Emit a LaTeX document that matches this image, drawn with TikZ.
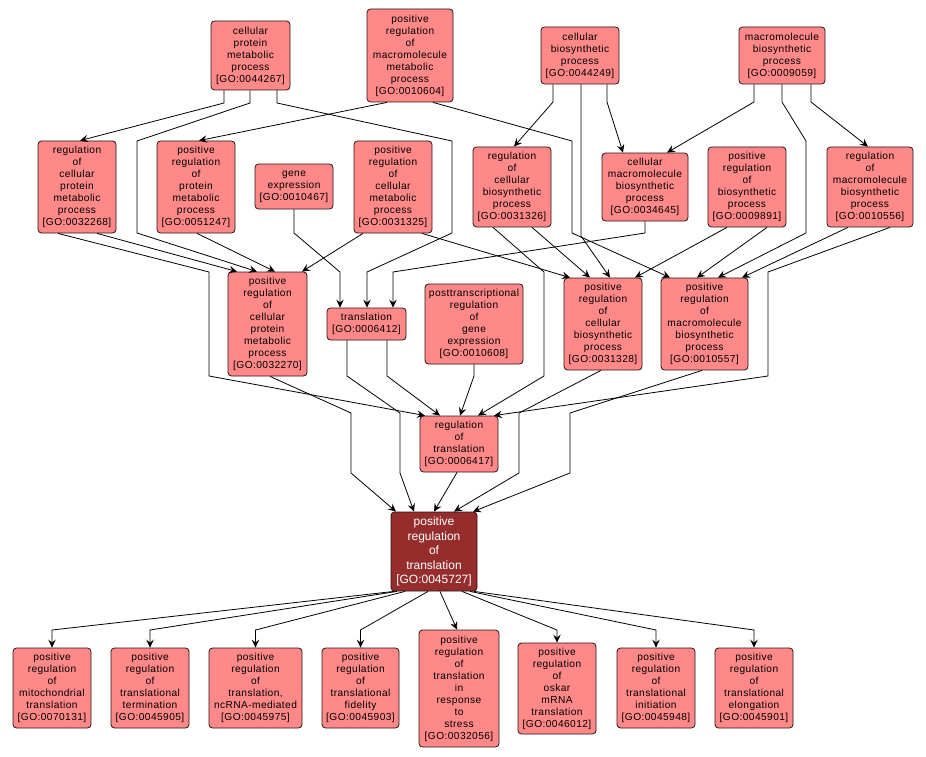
\documentclass[tikz,border=0pt]{standalone}
\usepackage{fontspec}
\setmainfont{Liberation Sans}[LetterSpace=4.0]
\newfontfamily\bigfont{Liberation Sans}
\usetikzlibrary{arrows.meta}
\definecolor{gofill}{RGB}{255,136,136}
\definecolor{gotarget}{RGB}{150,45,45}
\definecolor{goline}{RGB}{40,20,20}
\begin{document}
\begin{tikzpicture}[x=1pt,y=-1pt,
term/.style={draw=goline,line width=0.8pt,fill=gofill,rounded corners=3.5pt,
  inner sep=0pt,align=center,font=\fontsize{10.2}{12}\selectfont},
target/.style={term,fill=gotarget,text=white,font=\bigfont\fontsize{12}{14.5}\selectfont},
link/.style={draw,line width=0.8pt,-{Stealth[length=8pt,width=7.5pt,inset=3pt]}}
]
\useasboundingbox[fill=white] (0,0) rectangle (926,757);

\node[term,minimum width=79pt,minimum height=69pt] (cpm) at (250.5,55.5) {cellular\\protein\\metabolic\\process\\{[GO:0044267]}};
\node[term,minimum width=86pt,minimum height=93pt] (prmm) at (410,55.5) {positive\\regulation\\of\\macromolecule\\metabolic\\process\\{[GO:0010604]}};
\node[term,minimum width=78pt,minimum height=57pt] (cb) at (580,55.5) {cellular\\biosynthetic\\process\\{[GO:0044249]}};
\node[term,minimum width=86pt,minimum height=57pt] (mb) at (782,55.5) {macromolecule\\biosynthetic\\process\\{[GO:0009059]}};

\node[term,minimum width=78pt,minimum height=92pt] (rcpm) at (77,187) {regulation\\of\\cellular\\protein\\metabolic\\process\\{[GO:0032268]}};
\node[term,minimum width=78pt,minimum height=92pt] (prpm) at (196,187) {positive\\regulation\\of\\protein\\metabolic\\process\\{[GO:0051247]}};
\node[term,minimum width=78pt,minimum height=45pt] (ge) at (294,186.5) {gene\\expression\\{[GO:0010467]}};
\node[term,minimum width=78pt,minimum height=92pt] (prcm) at (393,187) {positive\\regulation\\of\\cellular\\metabolic\\process\\{[GO:0031325]}};
\node[term,minimum width=78pt,minimum height=80pt] (rcb) at (512,187) {regulation\\of\\cellular\\biosynthetic\\process\\{[GO:0031326]}};
\node[term,minimum width=86pt,minimum height=68pt] (cmb) at (645,187) {cellular\\macromolecule\\biosynthetic\\process\\{[GO:0034645]}};
\node[term,minimum width=78pt,minimum height=80pt] (prb) at (747,187) {positive\\regulation\\of\\biosynthetic\\process\\{[GO:0009891]}};
\node[term,minimum width=86pt,minimum height=80pt] (rmb) at (870,187) {regulation\\of\\macromolecule\\biosynthetic\\process\\{[GO:0010556]}};

\node[term,minimum width=79pt,minimum height=104pt] (prcpm) at (267.5,324) {positive\\regulation\\of\\cellular\\protein\\metabolic\\process\\{[GO:0032270]}};
\node[term,minimum width=79pt,minimum height=32pt] (tr) at (366.5,324) {translation\\{[GO:0006412]}};
\node[term,minimum width=98pt,minimum height=80pt] (ptr) at (474,324) {posttranscriptional\\regulation\\of\\gene\\expression\\{[GO:0010608]}};
\node[term,minimum width=78pt,minimum height=92pt] (prcb) at (603,324) {positive\\regulation\\of\\cellular\\biosynthetic\\process\\{[GO:0031328]}};
\node[term,minimum width=87pt,minimum height=92pt] (prmb) at (704.5,324) {positive\\regulation\\of\\macromolecule\\biosynthetic\\process\\{[GO:0010557]}};

\node[term,minimum width=78pt,minimum height=56pt] (rt) at (459,444) {regulation\\of\\translation\\{[GO:0006417]}};

\node[target,minimum width=86pt,minimum height=79pt] (prt) at (434,551.5) {positive\\regulation\\of\\translation\\{[GO:0045727]}};

\node[term,minimum width=78pt,minimum height=80pt] (mito) at (52,688) {positive\\regulation\\of\\mitochondrial\\translation\\{[GO:0070131]}};
\node[term,minimum width=78pt,minimum height=80pt] (term) at (150,688) {positive\\regulation\\of\\translational\\termination\\{[GO:0045905]}};
\node[term,minimum width=93pt,minimum height=80pt] (ncrna) at (255.5,688) {positive\\regulation\\of\\translation,\\ncRNA-mediated\\{[GO:0045975]}};
\node[term,minimum width=77pt,minimum height=80pt] (fid) at (360.5,688) {positive\\regulation\\of\\translational\\fidelity\\{[GO:0045903]}};
\node[term,minimum width=80pt,minimum height=117pt] (stress) at (459,688.5) {positive\\regulation\\of\\translation\\in\\response\\to\\stress\\{[GO:0032056]}};
\node[term,minimum width=78pt,minimum height=91pt] (oskar) at (557,688.5) {positive\\regulation\\of\\oskar\\mRNA\\translation\\{[GO:0046012]}};
\node[term,minimum width=78pt,minimum height=80pt] (init) at (656,688) {positive\\regulation\\of\\translational\\initiation\\{[GO:0045948]}};
\node[term,minimum width=78pt,minimum height=80pt] (elong) at (754,688) {positive\\regulation\\of\\translational\\elongation\\{[GO:0045901]}};

\draw[link] (cpm.south -| 224,0) -- (224,103) -- (rcpm.north -| 80,0);
\draw[link] (cpm.south -| 250,0) -- (250,103) -- (137,141) -- (137,233) -- (prcpm.north -| 257,0);
\draw[link] (cpm.south -| 277,0) -- (277,103) -- (452,141) -- (452,233) -- (367,272) -- (tr.north -| 367,0);
\draw[link] (prmm.south -| 387,0) -- (prpm.north -| 199,0);
\draw[link] (prmm.south -| 433,0) -- (572,141) -- (572,233) -- (prmb.north -| 670,0);
\draw[link] (cb.south -| 553,0) -- (553,102) -- (rcb.north -| 514,0);
\draw[link] (cb.south -| 607,0) -- (607,102) -- (cmb.north -| 623,0);
\draw[link] (cb.south -| 581,0) -- (581,236) -- (prcb.north -| 610,0);
\draw[link] (mb.south -| 754,0) -- (754,102) -- (cmb.north -| 667,0);
\draw[link] (mb.south -| 811,0) -- (811,102) -- (rmb.north -| 868,0);
\draw[link] (mb.south -| 782,0) -- (782,102) -- (806,141) -- (806,233) -- (prmb.north -| 718,0);

\draw[link] (rcpm.south -| 97,0) -- (prcpm.north -| 237,0);
\draw[link] (rcpm.south -| 58,0) -- (209,272) -- (209,376) -- (rt.north -| 425,0);
\draw[link] (prpm.south -| 197,0) -- (prcpm.north -| 275,0);
\draw[link] (ge.south) -- (294,233) -- (340,272) -- (tr.north -| 340,0);
\draw[link] (prcm.south -| 363,0) -- (prcpm.north -| 302,0);
\draw[link] (prcm.south -| 422,0) -- (prcb.north -| 570,0);
\draw[link] (rcb.south -| 532,0) -- (prcb.north -| 590,0);
\draw[link] (rcb.south -| 493,0) -- (544,272) -- (544,376) -- (rt.north -| 478,0);
\draw[link] (cmb.south) -- (645,233) -- (393,272) -- (tr.north -| 393,0);
\draw[link] (prb.south -| 727,0) -- (prcb.north -| 635,0);
\draw[link] (prb.south -| 767,0) -- (prmb.north -| 697,0);
\draw[link] (rmb.south -| 848,0) -- (prmb.north -| 742,0);
\draw[link] (rmb.south -| 890,0) -- (768,272) -- (768,376) -- (rt.north -| 494,0);

\draw[link] (prcpm.south -| 270,0) -- (351,413) -- (351,473) -- (prt.north -| 396,0);
\draw[link] (tr.south -| 347,0) -- (347,376) -- (400,413) -- (400,473) -- (prt.north -| 414,0);
\draw[link] (tr.south -| 387,0) -- (387,376) -- (rt.north -| 440,0);
\draw[link] (ptr.south) -- (474,376) -- (rt.north -| 460,0);
\draw[link] (prcb.south -| 601,0) -- (519,413) -- (519,473) -- (prt.north -| 454,0);
\draw[link] (prmb.south -| 702,0) -- (570,413) -- (570,473) -- (prt.north -| 473,0);
\draw[link] (rt.south -| 457,0) -- (prt.north -| 434,0);

\draw[link] (prt.south -| 394,0) -- (52,630) -- (mito.north);
\draw[link] (prt.south -| 397,0) -- (150,630) -- (term.north);
\draw[link] (prt.south -| 405,0) -- (255.5,630) -- (ncrna.north);
\draw[link] (prt.south -| 428,0) -- (360.5,630) -- (fid.north);
\draw[link] (prt.south -| 440,0) -- (stress.north -| 457,0);
\draw[link] (prt.south -| 462,0) -- (557,630) -- (oskar.north);
\draw[link] (prt.south -| 470,0) -- (656,630) -- (init.north);
\draw[link] (prt.south -| 474,0) -- (754,630) -- (elong.north);
\end{tikzpicture}
\end{document}
